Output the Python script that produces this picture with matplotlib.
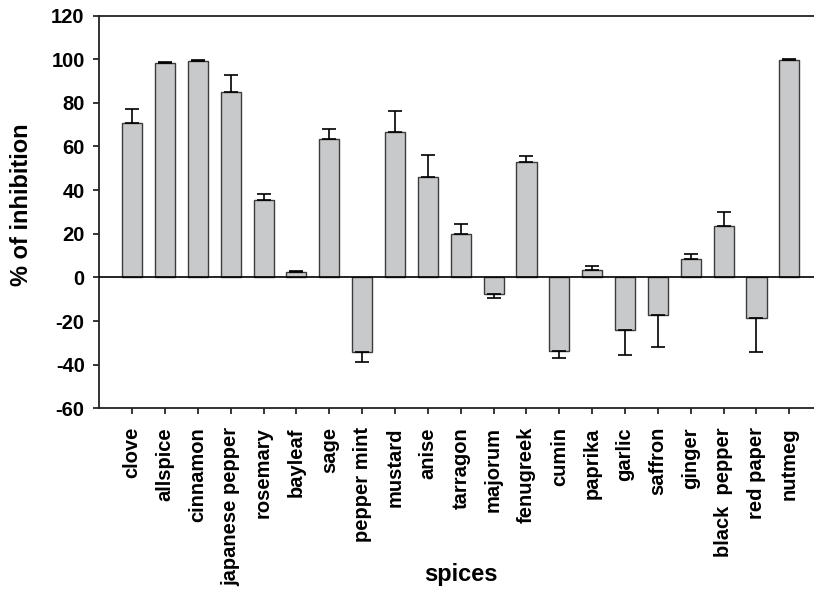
import matplotlib
matplotlib.use("Agg")
import matplotlib.pyplot as plt
import numpy as np

plt.rcParams['font.family'] = ['Liberation Sans', 'DejaVu Sans']
plt.rcParams['font.weight'] = 'bold'

spices = ["clove", "allspice", "cinnamon", "japanese pepper", "rosemary", "bayleaf",
          "sage", "pepper mint", "mustard", "anise", "tarragon", "majorum", "fenugreek",
          "cumin", "paprika", "garlic", "saffron", "ginger", "black  pepper", "red paper",
          "nutmeg"]
inhibition = [70.6, 98.3, 99.2, 85.1, 35.3, 2.6, 63.3, -34.4, 66.5, 46.0, 20.0, -7.7,
              52.7, -33.7, 3.2, -23.9, -17.2, 8.3, 23.4, -18.5, 99.5]
error = [6.6, 0.5, 0.6, 7.6, 2.8, 0.5, 4.6, 4.5, 9.6, 10.1, 4.6, 1.6, 2.9, 3.2,
         2.1, 11.7, 14.8, 2.5, 6.6, 15.8, 0.6]
yticks = [-60, -40, -20, 0, 20, 40, 60, 80, 100, 120]

vals = np.array(inhibition)
errs = np.array(error)
lower = np.where(vals < 0, errs, 0)
upper = np.where(vals >= 0, errs, 0)

fig = plt.figure(figsize=(8.14, 5.90), dpi=100)
ax = fig.add_axes([0.122, 0.308, 0.878, 0.6656])
x = np.arange(len(spices))
ax.bar(x, vals, width=0.61, color='#c8c9cb', edgecolor='#3c3c3c', linewidth=1.0, zorder=2)
ax.errorbar(x, vals, yerr=[lower, upper], fmt='none', ecolor='black', elinewidth=1.2,
            capsize=5, capthick=1.2, zorder=3)
ax.axhline(0, color='black', linewidth=1.2, zorder=4)

ax.set_xlim(-1.0, 20.75)
ax.set_ylim(-60, 120)
ax.set_yticks(yticks)
ax.set_yticklabels([str(t) for t in yticks], fontsize=14.5, fontweight='bold')
ax.set_xticks(x)
ax.set_xticklabels(spices, rotation=90, fontsize=14.5, fontweight='bold')
ax.tick_params(axis='y', direction='out', length=4.5, width=1.1, pad=6)
ax.tick_params(axis='x', direction='out', length=4.5, width=1.1, pad=9)
for s in ['left', 'top', 'bottom']:
    ax.spines[s].set_linewidth(1.3)
    ax.spines[s].set_color('#222222')
ax.spines['right'].set_visible(False)

ax.set_ylabel('% of inhibition', fontsize=17, fontweight='bold', va='center')
ax.yaxis.set_label_coords(-0.109, 0.518)
ax.set_xlabel('spices', fontsize=17, fontweight='bold')
ax.xaxis.set_label_coords(0.506, -0.394)

fig.savefig('out.png', dpi=100)
